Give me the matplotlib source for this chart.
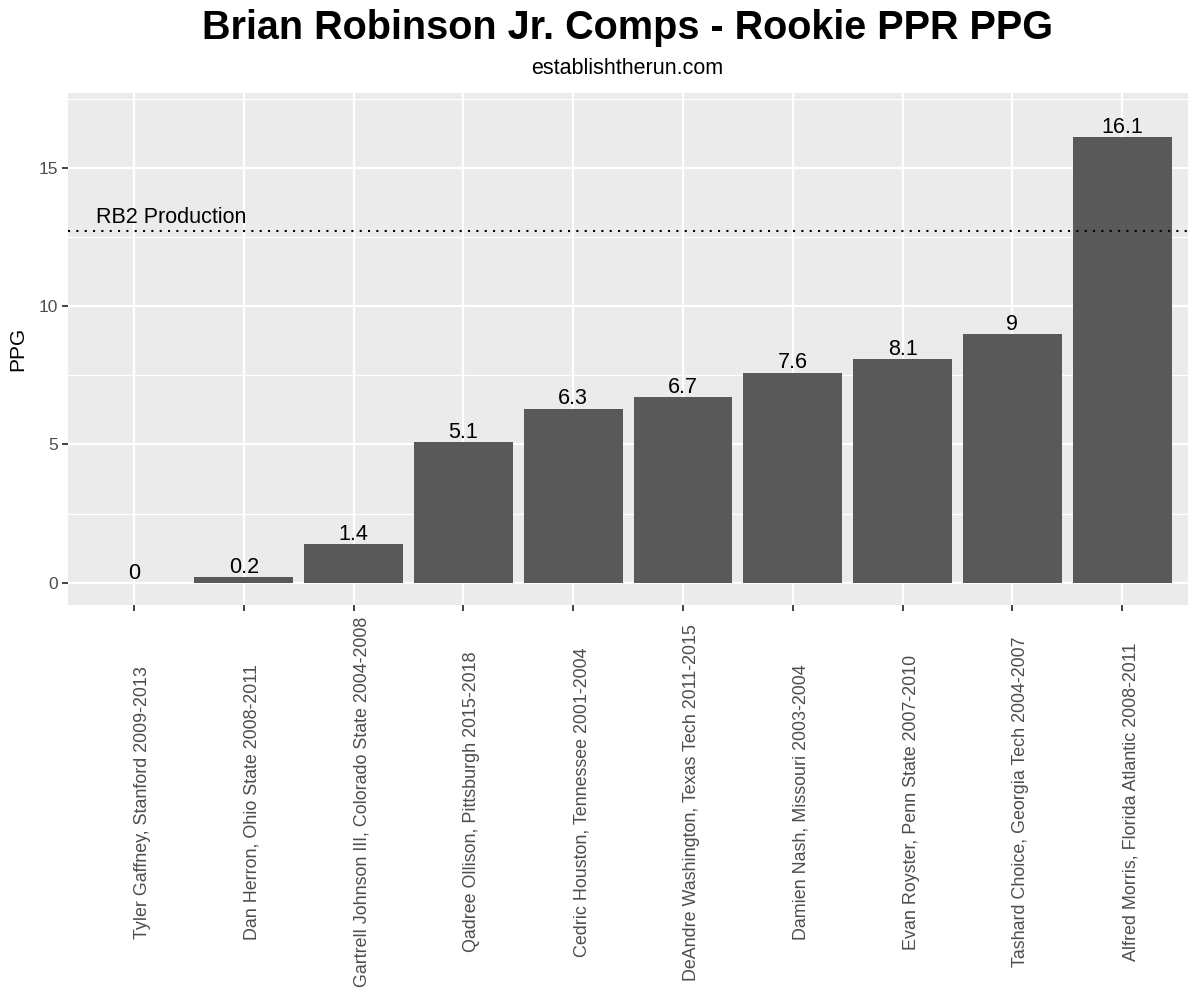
import matplotlib
matplotlib.use("Agg")
import matplotlib.pyplot as plt
import numpy as np

# data
players = [
    "Tyler Gaffney, Stanford 2009-2013",
    "Dan Herron, Ohio State 2008-2011",
    "Gartrell Johnson III, Colorado State 2004-2008",
    "Qadree Ollison, Pittsburgh 2015-2018",
    "Cedric Houston, Tennessee 2001-2004",
    "DeAndre Washington, Texas Tech 2011-2015",
    "Damien Nash, Missouri 2003-2004",
    "Evan Royster, Penn State 2007-2010",
    "Tashard Choice, Georgia Tech 2004-2007",
    "Alfred Morris, Florida Atlantic 2008-2011",
]
ppg = [0, 0.2, 1.4, 5.1, 6.3, 6.7, 7.6, 8.1, 9, 16.1]
rb2_line = 12.7
rb2_label = "RB2 Production"

plt.rcParams['font.family'] = ['Liberation Sans', 'DejaVu Sans']

fig = plt.figure(figsize=(12, 10), dpi=100)
ax = fig.add_axes([0.0567, 0.395, 0.9333, 0.512])
ax.set_facecolor('#EBEBEB')
for s in ax.spines.values():
    s.set_visible(False)

x = np.arange(1, len(players) + 1)
ax.bar(x, ppg, width=0.9, color='#595959', zorder=2)

# value labels
for xi, v in zip(x, ppg):
    lab = ('%g' % v)
    ax.annotate(lab, (xi, v), xytext=(0, 3), textcoords='offset points',
                ha='center', va='baseline', fontsize=15.5, color='black', zorder=4)

# RB2 reference line
ax.axhline(rb2_line, color='black', linestyle=(0, (1, 3)), linewidth=1.5, zorder=3)
ax.text(0.655, 13.0, rb2_label, ha='left', va='baseline', fontsize=15.5, zorder=4)

ax.set_xlim(0.4, len(players) + 0.6)
ax.set_ylim(-0.8, 17.7)

# ggplot-like grid
ax.set_yticks([0, 5, 10, 15])
ax.set_yticks([2.5, 7.5, 12.5, 17.5], minor=True)
ax.set_xticks(x)
ax.grid(which='major', color='white', linewidth=1.6, zorder=0)
ax.grid(which='minor', axis='y', color='white', linewidth=0.8, zorder=0)
ax.set_axisbelow(True)
ax.tick_params(which='major', length=4, width=1.3, color='#333333',
               labelcolor='#4D4D4D', labelsize=12.5, pad=3)
ax.tick_params(which='minor', length=0)
ax.set_xticklabels([''] * len(players))

# rotated category labels, centred below the panel
xform = ax.get_xaxis_transform()
for xi, name in zip(x, players):
    ax.text(xi, -0.385, name, rotation=90, ha='left', va='center',
            transform=xform, fontsize=12.9, color='#4D4D4D', clip_on=False)

ax.set_ylabel('PPG', fontsize=15, labelpad=8)

fig.text(0.523, 0.972, 'Brian Robinson Jr. Comps - Rookie PPR PPG',
         ha='center', va='center', fontsize=28.5, fontweight='bold')
fig.text(0.523, 0.931, 'establishtherun.com', ha='center', va='center', fontsize=15.5)

fig.savefig('out.png', dpi=100)
